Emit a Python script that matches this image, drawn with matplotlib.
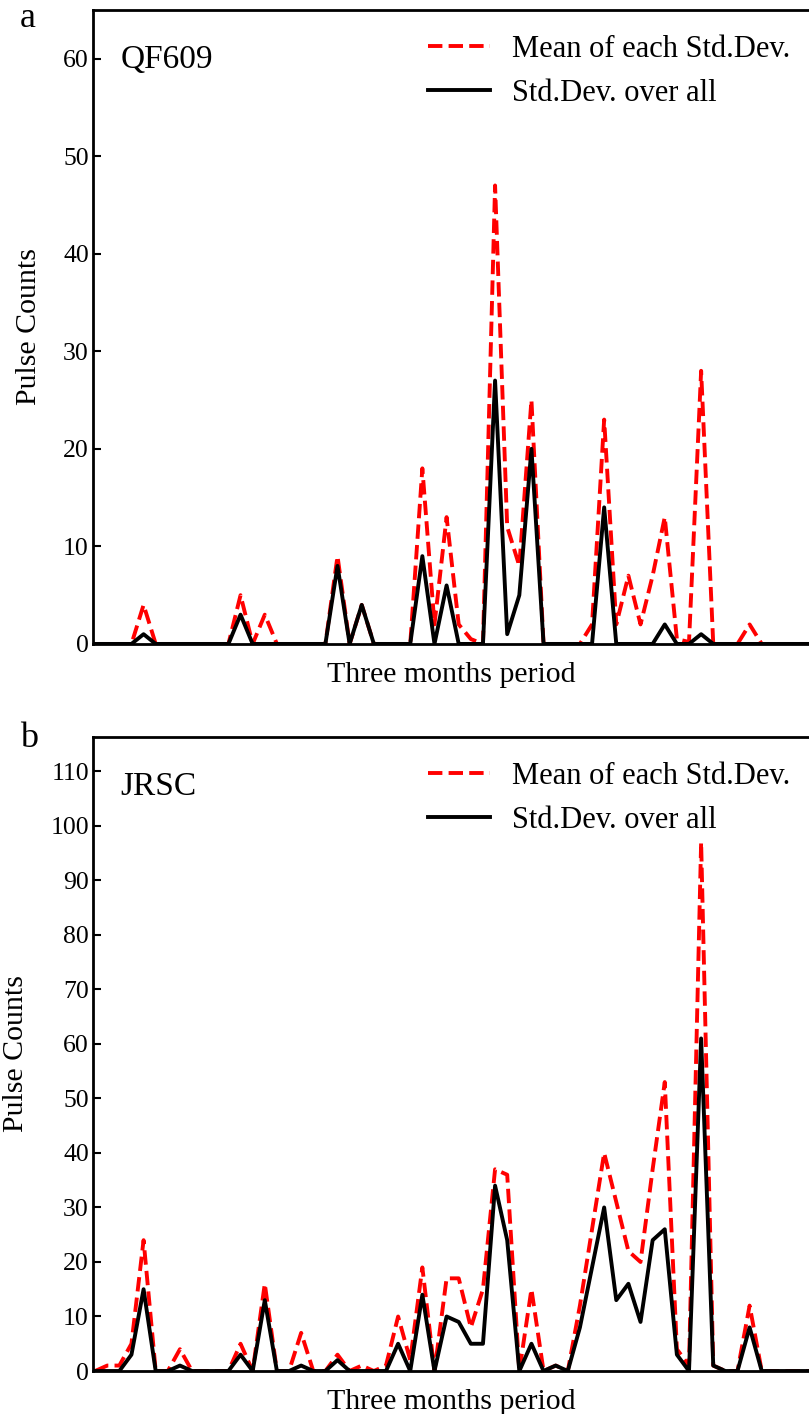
import numpy as np
import matplotlib
matplotlib.use("Agg")
import matplotlib.pyplot as plt

plt.rcParams['font.family'] = ['Liberation Serif', 'DejaVu Serif']

# panel a : QF609
qf_mean = [0, 0, 0, 0, 4, 0, 0, 0, 0, 0,
           0, 0, 5, 0, 3, 0, 0, 0, 0, 0,
           9, 0, 4, 0, 0, 0, 0, 18, 2, 13,
           2, 0.5, 0, 47, 12, 8, 25, 0, 0, 0,
           0, 2, 23, 2, 7, 2, 7, 13, 0.5, 0.2,
           28, 0, 0, 0, 2, 0, 0, 0, 0, 0]
qf_all = [0, 0, 0, 0, 1, 0, 0, 0, 0, 0,
          0, 0, 3, 0, 0, 0, 0, 0, 0, 0,
          8, 0, 4, 0, 0, 0, 0, 9, 0, 6,
          0, 0, 0, 27, 1, 5, 20, 0, 0, 0,
          0, 0, 14, 0, 0, 0, 0, 2, 0, 0,
          1, 0, 0, 0, 0, 0, 0, 0, 0, 0]

# panel b : JRSC
jr_mean = [0, 1, 1, 5, 24, 0, 0, 4, 0, 0,
           0, 0, 5, 0, 16, 0, 0, 7, 0, 0,
           3, 0, 1, 0, 1, 10, 2, 19, 0, 17,
           17, 8, 15, 37, 36, 0, 15, 0, 1, 0,
           12, 26, 40, 31, 22, 20, 37, 53, 4, 1,
           97, 1, 0, 0, 12, 0, 0, 0, 0, 0]
jr_all = [0, 0, 0, 3, 15, 0, 0, 1, 0, 0,
          0, 0, 3, 0, 13, 0, 0, 1, 0, 0,
          2, 0, 0, 0, 0, 5, 0, 14, 0, 10,
          9, 5, 5, 34, 24, 0, 5, 0, 1, 0,
          8, 19, 30, 13, 16, 9, 24, 26, 3, 0,
          61, 1, 0, 0, 8, 0, 0, 0, 0, 0]

x = np.arange(len(qf_mean))

fig = plt.figure(figsize=(8.09, 14.14), dpi=100)
ax1 = fig.add_axes([0.115, 0.5446, 0.885, 0.4484])
ax2 = fig.add_axes([0.115, 0.0304, 0.885, 0.4484])

panels = [(ax1, qf_mean, qf_all, 'QF609', 65, np.arange(0, 61, 10)),
          (ax2, jr_mean, jr_all, 'JRSC', 116.3, np.arange(0, 111, 10))]

for ax, m, a, name, ytop, yt in panels:
    ax.plot(x, m, 'r--', lw=2.8, label='Mean of each Std.Dev.')
    ax.plot(x, a, 'k-', lw=2.8, label='Std.Dev. over all')
    ax.set_xlim(-0.17, 58.9)
    ax.set_ylim(0, ytop)
    ax.set_yticks(yt)
    ax.set_xticks([])
    ax.tick_params(axis='y', direction='in', length=6, width=1.5, labelsize=18.5, pad=3)
    for s in ax.spines.values():
        s.set_linewidth(2)
    ax.spines['right'].set_visible(False)  # figure is cut at the right edge
    ax.set_xlabel('Three months period', fontsize=21.5, labelpad=13)
    ax.set_ylabel('Pulse Counts', fontsize=21.5, labelpad=15)
    ax.text(0.038, 0.922, name, transform=ax.transAxes, fontsize=24, va='center')
    ax.legend(loc='upper right', frameon=False, fontsize=22, handlelength=2.0,
              handletextpad=0.75, borderaxespad=0.2, bbox_to_anchor=(1.0, 0.99),
              labelspacing=0.5)

fig.text(0.025, 0.987, 'a', fontsize=26, va='center')
fig.text(0.025, 0.478, 'b', fontsize=26, va='center')

fig.savefig('out.png', dpi=100)
